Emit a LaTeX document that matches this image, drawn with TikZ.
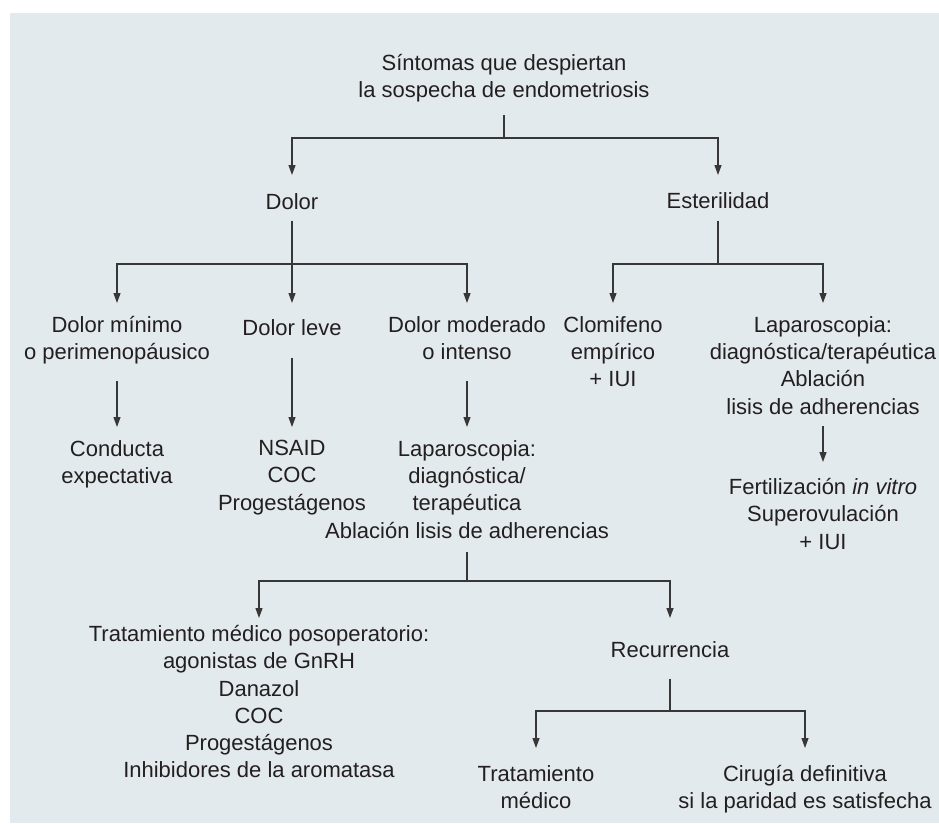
\documentclass[tikz,border=0pt]{standalone}
\usepackage{fontspec}
\setmainfont{Liberation Sans}
\usetikzlibrary{arrows.meta}
\definecolor{panel}{RGB}{227,234,238}
\definecolor{ink}{RGB}{35,31,32}
\definecolor{linegray}{RGB}{55,55,55}

\begin{document}
\begin{tikzpicture}[x=1pt,y=-1pt,
  box/.style={anchor=north, align=center, inner sep=0pt, text=ink,
    font=\fontsize{22}{27.3}\selectfont,
    execute at begin node=\strut, execute at end node=\strut},
  wire/.style={draw=linegray, line width=1.2pt},
  arr/.style={wire, -{Triangle[length=10pt,width=7pt]}}]
\useasboundingbox (0,0) rectangle (939,823);
\fill[panel] (10,13) rectangle (939,823);

% nodes, placed by their top edge
\node[box] (sint)  at (504,54)  {Síntomas que despiertan\\la sospecha de endometriosis};
\node[box] (dolor) at (292,190) {Dolor};
\node[box] (ester) at (718,189) {Esterilidad};
\node[box] (dmin)  at (117,316) {Dolor mínimo\\o perimenopáusico};
\node[box] (dleve) at (292,316) {Dolor leve};
\node[box] (dmod)  at (467,316) {Dolor moderado\\o intenso};
\node[box] (clom)  at (613,316) {Clomifeno\\empírico\\+ IUI};
\node[box] (lapE)  at (823,316) {Laparoscopia:\\diagnóstica/terapéutica\\Ablación\\lisis de adherencias};
\node[box] (cond)  at (117,440) {Conducta\\expectativa};
\node[box] (nsaid) at (292,440) {NSAID\\COC\\Progestágenos};
\node[box] (lapD)  at (467,440) {Laparoscopia:\\diagnóstica/\\terapéutica\\Ablación lisis de adherencias};
\node[box] (fiv)   at (823,478) {Fertilización \textit{in vitro}\\Superovulación\\+ IUI};
\node[box] (trat)  at (259,625) {Tratamiento médico posoperatorio:\\agonistas de GnRH\\Danazol\\COC\\Progestágenos\\Inhibidores de la aromatasa};
\node[box] (recu)  at (670,638) {Recurrencia};
\node[box] (tmed)  at (536,765) {Tratamiento\\médico};
\node[box] (cir)   at (805,765) {Cirugía definitiva\\si la paridad es satisfecha};

% branch points
\coordinate (jS) at (504,138);
\coordinate (jD) at (292,264);
\coordinate (jE) at (718,264);
\coordinate (jL) at (467,581);
\coordinate (jR) at (670,711);

% connectors
\draw[wire, shorten <=9pt] (sint) -- (jS);
\draw[arr, shorten >=15pt] (jS) -| (dolor);
\draw[arr, shorten >=14pt] (jS) -| (ester);
\draw[arr, shorten <=3pt, shorten >=13pt] (dolor) -- (dleve);
\draw[arr, shorten >=13pt] (jD) -| (dmin);
\draw[arr, shorten >=13pt] (jD) -| (dmod);
\draw[wire, shorten <=4pt] (ester) -- (jE);
\draw[arr, shorten >=13pt] (jE) -| (clom);
\draw[arr, shorten >=13pt] (jE) -| (lapE);
\draw[arr, shorten <=13pt, shorten >=13pt] (dmin) -- (cond);
\draw[arr, shorten <=14pt, shorten >=13pt] (dleve) -- (nsaid);
\draw[arr, shorten <=13pt, shorten >=13pt] (dmod) -- (lapD);
\draw[arr, shorten <=4pt, shorten >=16pt] (lapE) -- (fiv);
\draw[wire, shorten <=6pt] (lapD) -- (jL);
\draw[arr, shorten >=7pt] (jL) -| (trat);
\draw[arr, shorten >=20pt] (jL) -| (recu);
\draw[wire, shorten <=13pt] (recu) -- (jR);
\draw[arr, shorten >=17pt] (jR) -| (tmed);
\draw[arr, shorten >=17pt] (jR) -| (cir);
\end{tikzpicture}
\end{document}
